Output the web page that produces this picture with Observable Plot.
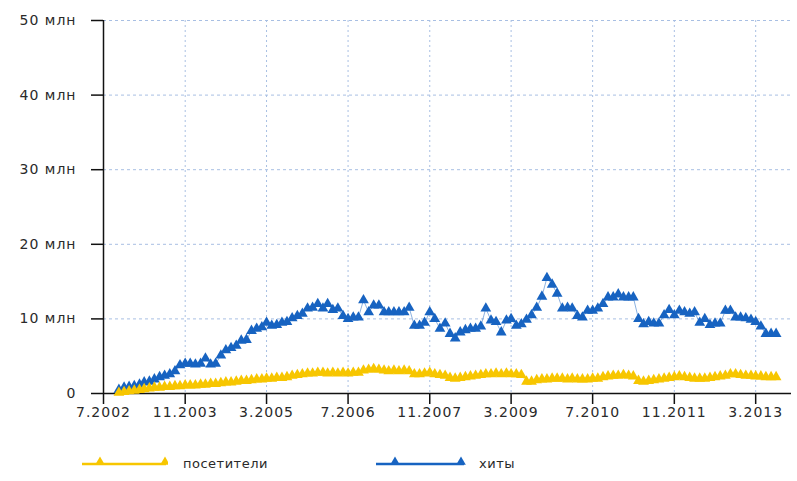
<!DOCTYPE html>
<html>
<head>
<meta charset="utf-8">
<script src="https://cdn.jsdelivr.net/npm/d3@7"></script>
<script src="https://cdn.jsdelivr.net/npm/@observablehq/plot@0.6"></script>
<style>
  body { margin: 0; background: #fff; }
  #wrap { width: 797px; height: 481px; position: relative; overflow: hidden; font-family: "DejaVu Sans", sans-serif; }
  #legend { position: relative; height: 41px; }
  .item { position: absolute; top: 0; height: 41px; }
  .lbl { position: absolute; top: 16px; font-size: 13px; color: #2a2a2a; letter-spacing: 0.5px; white-space: nowrap; }
</style>
</head>
<body>
<div id="wrap">
  <div id="chart"></div>
  <div id="legend"></div>
</div>
<script>
// Series: monthly values (millions), starting 10.2002
const seriesStart = "10.2002";
const hits = [
  0.5, 0.8, 0.9, 1.0, 1.2, 1.5, 1.6, 1.9, 2.2, 2.4,
  2.6, 3.0, 3.8, 4.0, 4.0, 3.9, 4.0, 4.7, 3.9, 4.0,
  5.1, 5.8, 6.1, 6.4, 7.1, 7.2, 8.4, 8.7, 8.9, 9.5,
  9.1, 9.2, 9.5, 9.6, 10.1, 10.4, 10.7, 11.4, 11.5, 12.0,
  11.4, 12.0, 11.2, 11.4, 10.4, 10.0, 10.2, 10.2, 12.5, 10.9,
  11.8, 11.8, 10.9, 10.9, 10.9, 10.9, 10.9, 11.5, 9.1, 9.1,
  9.5, 10.9, 10.0, 8.7, 9.4, 8.0, 7.4, 8.2, 8.5, 8.7,
  8.7, 9.0, 11.4, 9.8, 9.6, 8.2, 9.8, 10.0, 9.1, 9.3,
  9.9, 10.5, 11.5, 13.0, 15.5, 14.6, 13.4, 11.4, 11.5, 11.4,
  10.4, 10.2, 11.1, 11.1, 11.4, 12.0, 12.9, 12.9, 13.3, 12.9,
  12.9, 12.9, 10.0, 9.3, 9.6, 9.4, 9.4, 10.5, 11.2, 10.5,
  11.1, 10.9, 10.7, 10.9, 9.5, 10.0, 9.2, 9.4, 9.4, 11.1,
  11.1, 10.2, 10.2, 10.1, 9.9, 9.6, 9.0, 8.0, 8.0, 8.0
];
const visitors = [
  0.1, 0.2, 0.3, 0.4, 0.5, 0.6, 0.7, 0.8, 0.8, 0.9,
  0.9, 1.0, 1.0, 1.1, 1.1, 1.1, 1.2, 1.2, 1.3, 1.3,
  1.4, 1.5, 1.5, 1.6, 1.7, 1.7, 1.8, 1.9, 1.9, 2.0,
  2.0, 2.1, 2.1, 2.2, 2.4, 2.5, 2.6, 2.7, 2.7, 2.8,
  2.8, 2.7, 2.8, 2.7, 2.8, 2.7, 2.8, 2.8, 3.1, 3.2,
  3.3, 3.2, 3.1, 3.0, 3.1, 3.0, 3.1, 3.0, 2.6, 2.6,
  2.7, 2.8, 2.6, 2.5, 2.4, 2.1, 2.0, 2.1, 2.2, 2.3,
  2.4, 2.5, 2.6, 2.6, 2.7, 2.6, 2.7, 2.6, 2.6, 2.5,
  1.6, 1.6, 1.8, 1.9, 1.9, 2.0, 2.0, 2.0, 1.9, 2.0,
  1.9, 1.9, 1.9, 2.0, 2.0, 2.2, 2.3, 2.4, 2.4, 2.5,
  2.4, 2.3, 1.7, 1.6, 1.7, 1.8, 1.9, 2.0, 2.1, 2.2,
  2.3, 2.2, 2.1, 2.0, 2.0, 2.0, 2.1, 2.2, 2.3, 2.4,
  2.6, 2.6, 2.5, 2.4, 2.4, 2.3, 2.3, 2.2, 2.2, 2.2
];
const seriesNames = ["посетители", "хиты"];
const seriesColors = ["#f7c600", "#1763c1"];
const xTickLabels = ["7.2002", "11.2003", "3.2005", "7.2006", "11.2007", "3.2009", "7.2010", "11.2011", "3.2013"];
const xDomainLabels = ["7.2002", "10.2013"];
const yTicks = [0, 10, 20, 30, 40, 50];
const yUnit = "млн";

const parseMY = s => { const [m, y] = s.split(".").map(Number); return new Date(Date.UTC(y, m - 1, 1)); };
const start = parseMY(seriesStart);
const monthAt = i => new Date(Date.UTC(start.getUTCFullYear(), start.getUTCMonth() + i, 1));

const rows = [];
visitors.forEach((v, i) => rows.push({date: monthAt(i), value: v, series: seriesNames[0]}));
hits.forEach((v, i) => rows.push({date: monthAt(i), value: v, series: seriesNames[1]}));

const xTicks = xTickLabels.map(parseMY);
const xDomain = xDomainLabels.map(parseMY);
const fmtX = d => `${d.getUTCMonth() + 1}.${d.getUTCFullYear()}`;
const gridColor = "#a8bfe3";

const chart = Plot.plot({
  width: 797,
  height: 440,
  marginLeft: 103,
  marginRight: 6,
  marginTop: 20,
  marginBottom: 47,
  style: {fontFamily: "DejaVu Sans, sans-serif", fontSize: "14px", letterSpacing: "1px", color: "#2a2a2a", background: "#fff"},
  x: {type: "utc", domain: xDomain},
  y: {domain: [0, 50]},
  color: {domain: seriesNames, range: seriesColors},
  marks: [
    Plot.gridY(yTicks.slice(1), {stroke: gridColor, strokeOpacity: 1, strokeDasharray: "3,3"}),
    Plot.gridX(xTicks.slice(1), {stroke: gridColor, strokeOpacity: 1, strokeDasharray: "2,3"}),
    Plot.axisY(yTicks, {tickSize: 12, tickPadding: 15, strokeWidth: 1.5, stroke: "#111",
      tickFormat: d => d === 0 ? "0" : `${d} ${yUnit}`, label: null}),
    Plot.axisX(xTicks, {tickSize: 11, tickPadding: 3, strokeWidth: 1.5, stroke: "#111",
      tickFormat: fmtX, label: null}),
    Plot.ruleY([0], {stroke: "#111", strokeWidth: 1.5}),
    Plot.ruleX([xDomain[0]], {y1: 0, y2: 50, stroke: "#111", strokeWidth: 1.5}),
    Plot.line(rows.filter(d => d.series === seriesNames[1]), {x: "date", y: "value", stroke: "series", strokeWidth: 1, strokeOpacity: 0.5}),
    Plot.dot(rows.filter(d => d.series === seriesNames[1]), {x: "date", y: "value", fill: "series", symbol: "triangle", r: 4}),
    Plot.line(rows.filter(d => d.series === seriesNames[0]), {x: "date", y: "value", stroke: "series", strokeWidth: 1, strokeOpacity: 0.6}),
    Plot.dot(rows.filter(d => d.series === seriesNames[0]), {x: "date", y: "value", fill: "series", symbol: "triangle", r: 4})
  ]
});
document.getElementById("chart").appendChild(chart);

// Legend
const legend = d3.select("#legend");
const legendItems = [
  {name: seriesNames[0], color: seriesColors[0], left: 82, width: 86, marks: [18, 83], textLeft: 183},
  {name: seriesNames[1], color: seriesColors[1], left: 376, width: 90, marks: [19, 85], textLeft: 479}
];
legendItems.forEach(it => {
  const svg = legend.append("svg").attr("class", "item")
    .style("left", it.left + "px").attr("width", it.width).attr("height", 41);
  svg.append("line").attr("x1", 0).attr("x2", it.width - 2).attr("y1", 24).attr("y2", 24)
    .attr("stroke", it.color).attr("stroke-width", 2.5);
  it.marks.forEach(mx => {
    svg.append("path").attr("d", d3.symbol(d3.symbolTriangle, 40)())
      .attr("transform", `translate(${mx},22)`).attr("fill", it.color);
  });
  legend.append("div").attr("class", "lbl").style("left", it.textLeft + "px").text(it.name);
});
</script>
</body>
</html>
